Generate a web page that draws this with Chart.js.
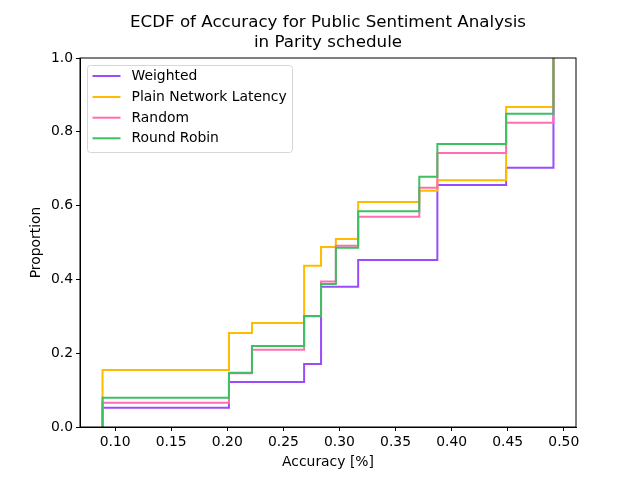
<!DOCTYPE html>
<html>
<head>
<meta charset="utf-8">
<script src="https://cdn.jsdelivr.net/npm/chart.js@4"></script>
<style>
	body { margin: 0; background: #ffffff; }
	#chart { display: block; }
</style>
</head>
<body>
<canvas id="chart" width="640" height="480"></canvas>
<script>
// accuracy values where the ECDF steps (shared by all schedules)
let accuracy = [0.0888, 0.2015, 0.222, 0.2685, 0.2836, 0.2968, 0.3167, 0.3712, 0.3873, 0.4486, 0.4908];

// proportion after each step
let weighted = [0.052, 0.122, 0.122, 0.171, 0.380, 0.380, 0.4526, 0.4526, 0.6558, 0.7028, 1.0];
let plainLatency = [0.1545, 0.2547, 0.2818, 0.437, 0.4878, 0.5095, 0.6098, 0.640, 0.669, 0.867, 1.0];
let random = [0.066, 0.146, 0.2096, 0.300, 0.394, 0.491, 0.570, 0.6486, 0.7425, 0.8248, 1.0];
let roundRobin = [0.0795, 0.147, 0.2195, 0.3008, 0.3875, 0.486, 0.585, 0.678, 0.767, 0.849, 1.0];

let seriesNames = ["Weighted", "Plain Network Latency", "Random", "Round Robin"];
let seriesColors = ["#9b4cfa", "#ffbb00", "#ff6eb0", "#3dbf62"];

let xTicks = [0.10, 0.15, 0.20, 0.25, 0.30, 0.35, 0.40, 0.45, 0.50];
let yTicks = [0.0, 0.2, 0.4, 0.6, 0.8, 1.0];

let titleLines = ["ECDF of Accuracy for Public Sentiment Analysis", "in Parity schedule"];

const FONT = "'DejaVu Sans', sans-serif";

function ecdfPoints(values) {
	// start at 0 on the first value, then step up
	let pts = [{ x: accuracy[0], y: 0 }];
	for (let i = 0; i < accuracy.length; i++) {
		pts.push({ x: accuracy[i], y: values[i] });
	}
	return pts;
}

let allValues = [weighted, plainLatency, random, roundRobin];
let datasets = [];
for (let i = 0; i < allValues.length; i++) {
	datasets.push({
		label: seriesNames[i],
		data: ecdfPoints(allValues[i]),
		borderColor: seriesColors[i],
		backgroundColor: seriesColors[i],
		borderWidth: 2,
		pointRadius: 0,
		stepped: "before",
		fill: false,
		order: allValues.length - i // later series drawn on top
	});
}

// title, frame and matplotlib style legend box
const decorations = {
	id: "decorations",
	afterDraw(chart) {
		const ctx = chart.ctx;
		const area = chart.chartArea;
		ctx.save();

		ctx.strokeStyle = "#000000";
		ctx.lineWidth = 1;
		ctx.strokeRect(area.left, area.top, area.right - area.left, area.bottom - area.top);

		ctx.fillStyle = "#000000";
		ctx.font = "16.7px " + FONT;
		ctx.textAlign = "center";
		ctx.textBaseline = "middle";
		let cx = (area.left + area.right) / 2;
		ctx.fillText(titleLines[0], cx, 23);
		ctx.fillText(titleLines[1], cx, 43);

		// legend
		let bx = 87.5, by = 65.5, bw = 205, bh = 87, r = 3;
		ctx.beginPath();
		ctx.moveTo(bx + r, by);
		ctx.arcTo(bx + bw, by, bx + bw, by + bh, r);
		ctx.arcTo(bx + bw, by + bh, bx, by + bh, r);
		ctx.arcTo(bx, by + bh, bx, by, r);
		ctx.arcTo(bx, by, bx + bw, by, r);
		ctx.closePath();
		ctx.fillStyle = "rgba(255,255,255,0.8)";
		ctx.fill();
		ctx.strokeStyle = "#d6d6d6";
		ctx.stroke();

		ctx.font = "13.9px " + FONT;
		ctx.textAlign = "left";
		let rows = [76, 97, 117.7, 138.3];
		chart.data.datasets.forEach((ds, i) => {
			ctx.strokeStyle = ds.borderColor;
			ctx.lineWidth = 2;
			ctx.beginPath();
			ctx.moveTo(92.5, rows[i]);
			ctx.lineTo(120.5, rows[i]);
			ctx.stroke();
			ctx.fillStyle = "#000000";
			ctx.fillText(ds.label, 131.5, rows[i] + 0.5);
		});

		ctx.restore();
	}
};

Chart.defaults.font.family = FONT;
Chart.defaults.color = "#000000";

new Chart(document.getElementById("chart"), {
	type: "line",
	data: { datasets: datasets },
	options: {
		responsive: false,
		animation: false,
		layout: { padding: { left: 0, right: 64, top: 58, bottom: 0 } },
		plugins: {
			legend: { display: false },
			title: { display: false },
			tooltip: { enabled: false }
		},
		scales: {
			x: {
				type: "linear",
				min: 0.0687,
				max: 0.5109,
				afterFit: (scale) => { scale.height = 53; },
				afterBuildTicks: (scale) => { scale.ticks = xTicks.map((v) => ({ value: v })); },
				grid: { display: true, drawOnChartArea: false, drawTicks: true, tickLength: 4, color: "#000000" },
				border: { display: true, color: "#000000", width: 1 },
				ticks: {
					padding: 3,
					maxRotation: 0,
					font: { size: 13.9 },
					callback: (v) => v.toFixed(2)
				},
				title: {
					display: true,
					text: "Accuracy [%]",
					font: { size: 13.9 },
					padding: { top: 0, bottom: 9.6 }
				}
			},
			y: {
				type: "linear",
				min: 0,
				max: 1,
				afterFit: (scale) => { scale.width = 80; },
				afterBuildTicks: (scale) => { scale.ticks = yTicks.map((v) => ({ value: v })); },
				grid: { display: true, drawOnChartArea: false, drawTicks: true, tickLength: 4, color: "#000000" },
				border: { display: true, color: "#000000", width: 1 },
				ticks: {
					padding: 3,
					font: { size: 13.9 },
					callback: (v) => v.toFixed(1)
				},
				title: {
					display: true,
					text: "Proportion",
					font: { size: 13.9 },
					padding: { top: 27.6, bottom: 0 }
				}
			}
		}
	},
	plugins: [decorations]
});
</script>
</body>
</html>
